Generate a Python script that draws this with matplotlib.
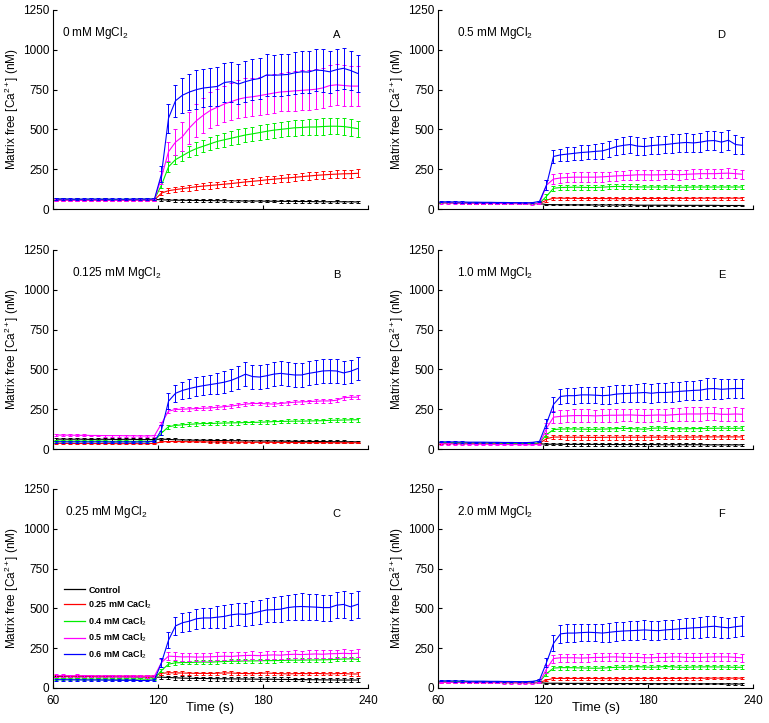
import matplotlib
matplotlib.use('Agg')
import matplotlib.pyplot as plt
from matplotlib.lines import Line2D

plt.rcParams['font.family'] = ['Liberation Sans', 'DejaVu Sans']
plt.rcParams['mathtext.fontset'] = 'custom'
plt.rcParams['mathtext.rm'] = 'Liberation Sans'
plt.rcParams['mathtext.it'] = 'Liberation Sans:italic'
plt.rcParams['mathtext.bf'] = 'Liberation Sans:bold'

# ---------------- data ----------------
TIME = [62, 66, 70, 74, 78, 82, 86, 90, 94, 98, 102, 106, 110, 114, 118,
        122, 126, 130, 134, 138, 142, 146, 150, 154, 158, 162, 166, 170, 174, 178,
        182, 186, 190, 194, 198, 202, 206, 210, 214, 218, 222, 226, 230, 234]

SERIES_LABELS = ['Control', '0.25 mM CaCl$_2$', '0.4 mM CaCl$_2$',
                 '0.5 mM CaCl$_2$', '0.6 mM CaCl$_2$']
SERIES_COLORS = ['#000000', '#ff0000', '#00ee00', '#ff00ff', '#0000ff']
PANEL_TITLES = ['0 mM MgCl$_2$', '0.125 mM MgCl$_2$', '0.25 mM MgCl$_2$',
                '0.5 mM MgCl$_2$', '1.0 mM MgCl$_2$', '2.0 mM MgCl$_2$']
PANEL_LETTERS = ['A', 'B', 'C', 'D', 'E', 'F']
XTICKS = [60, 120, 180, 240]
YTICKS = [0, 250, 500, 750, 1000, 1250]

# Panel A: 0 mM MgCl2
A_ctrl = [62, 61, 60, 61, 60, 59, 60, 61, 60, 59, 60, 60, 61, 60, 60,
          58, 56, 55, 55, 54, 54, 53, 53, 52, 52, 51, 51, 50, 50, 50, 49, 49, 48, 48, 48, 47, 47, 46, 46, 45, 46, 45, 45, 44]
A_ctrl_err = [5, 5, 5, 5, 5, 5, 5, 5, 5, 5, 5, 5, 5, 5, 6,
              8, 8, 8, 8, 8, 8, 8, 8, 8, 8, 8, 8, 8, 8, 8, 8, 8, 8, 8, 8, 8, 8, 8, 8, 8, 8, 8, 8, 8]
A_red = [55, 56, 55, 54, 55, 56, 55, 54, 55, 55, 54, 55, 56, 55, 57,
         100, 115, 122, 128, 134, 140, 144, 148, 152, 156, 160, 165, 170, 174, 178, 183, 187, 191, 195, 199, 203, 207, 211, 214, 217, 219, 221, 222, 224]
A_red_err = [4, 4, 4, 4, 4, 4, 4, 4, 4, 4, 4, 4, 4, 4, 4,
             12, 15, 17, 18, 18, 19, 19, 20, 20, 20, 21, 21, 21, 22, 22, 22, 22, 23, 23, 23, 23, 24, 24, 24, 24, 25, 25, 25, 25]
A_grn = [60, 61, 60, 59, 60, 61, 60, 60, 59, 60, 61, 60, 60, 61, 62,
         150, 265, 310, 335, 360, 380, 395, 410, 425, 435, 445, 455, 465, 472, 480, 488, 495, 500, 505, 510, 512, 515, 515, 518, 520, 520, 518, 512, 505]
A_grn_err = [5, 5, 5, 5, 5, 5, 5, 5, 5, 5, 5, 5, 5, 5, 5,
             20, 30, 30, 32, 35, 38, 40, 42, 42, 44, 45, 45, 46, 46, 47, 47, 48, 48, 48, 50, 50, 50, 50, 52, 52, 52, 52, 52, 50]
A_mag = [55, 56, 55, 54, 55, 55, 56, 55, 54, 55, 55, 56, 55, 56, 58,
         200, 360, 420, 455, 510, 555, 590, 620, 640, 660, 675, 690, 700, 705, 712, 720, 728, 735, 738, 742, 745, 748, 752, 760, 775, 780, 776, 772, 772]
A_mag_err = [5, 5, 5, 5, 5, 5, 5, 5, 5, 5, 5, 5, 5, 5, 5,
             40, 60, 80, 90, 100, 105, 110, 112, 115, 115, 118, 118, 120, 120, 120, 122, 122, 122, 125, 125, 125, 125, 125, 128, 128, 128, 128, 128, 128]
A_blu = [62, 63, 62, 61, 62, 63, 62, 61, 62, 62, 61, 62, 63, 62, 64,
         220, 570, 680, 715, 735, 750, 760, 765, 770, 795, 800, 785, 800, 812, 820, 842, 840, 842, 845, 855, 862, 860, 873, 870, 862, 875, 884, 870, 852]
A_blu_err = [6, 6, 6, 6, 6, 6, 6, 6, 6, 6, 6, 6, 6, 6, 6,
             50, 90, 100, 110, 115, 120, 120, 120, 122, 125, 125, 125, 128, 130, 130, 130, 130, 130, 130, 130, 132, 132, 132, 132, 132, 130, 130, 125, 115]

# Panel B: 0.125 mM MgCl2
B_ctrl = [62, 62, 61, 62, 61, 60, 61, 61, 60, 60, 61, 60, 60, 59, 60,
          62, 60, 58, 57, 56, 55, 55, 54, 53, 53, 52, 52, 51, 51, 50, 50, 50, 49, 49, 48, 48, 48, 47, 47, 46, 46, 46, 45, 45]
B_ctrl_err = [10, 10, 10, 10, 10, 10, 10, 10, 10, 10, 10, 10, 10, 10, 10,
              8, 8, 8, 8, 8, 8, 8, 8, 8, 8, 8, 8, 8, 8, 8, 8, 8, 8, 8, 8, 8, 8, 8, 8, 8, 8, 8, 8, 8]
B_red = [36, 35, 35, 34, 35, 34, 34, 35, 34, 33, 34, 34, 33, 34, 35,
         45, 47, 47, 46, 46, 45, 45, 44, 44, 44, 43, 43, 43, 42, 42, 42, 42, 41, 41, 41, 40, 40, 40, 40, 40, 39, 39, 39, 39]
B_red_err = [4, 4, 4, 4, 4, 4, 4, 4, 4, 4, 4, 4, 4, 4, 4,
             4, 4, 4, 4, 4, 4, 4, 4, 4, 4, 4, 4, 4, 4, 4, 4, 4, 4, 4, 4, 4, 4, 4, 4, 4, 4, 4, 4, 4]
B_grn = [50, 50, 49, 50, 49, 49, 50, 49, 48, 49, 49, 48, 49, 48, 50,
         100, 140, 148, 152, 155, 158, 160, 160, 162, 163, 164, 165, 166, 167, 168, 170, 172, 173, 174, 175, 175, 176, 177, 178, 180, 181, 182, 183, 184]
B_grn_err = [5, 5, 5, 5, 5, 5, 5, 5, 5, 5, 5, 5, 5, 5, 5,
             12, 12, 12, 12, 12, 12, 12, 12, 12, 12, 12, 12, 12, 12, 12, 12, 12, 12, 12, 12, 12, 12, 12, 12, 12, 12, 12, 12, 12]
B_mag = [88, 87, 87, 86, 86, 85, 85, 84, 84, 84, 83, 83, 82, 82, 84,
         160, 238, 248, 250, 252, 254, 256, 258, 262, 266, 270, 276, 282, 286, 286, 284, 282, 286, 290, 294, 296, 298, 300, 302, 302, 306, 322, 325, 326]
B_mag_err = [6, 6, 6, 6, 6, 6, 6, 6, 6, 6, 6, 6, 6, 6, 6,
             12, 12, 12, 12, 12, 12, 12, 12, 12, 12, 12, 12, 12, 12, 12, 12, 12, 12, 12, 12, 12, 12, 12, 12, 12, 12, 12, 12, 12]
B_blu = [45, 45, 44, 45, 44, 44, 45, 44, 43, 44, 44, 43, 44, 45, 48,
         120, 300, 350, 368, 380, 390, 398, 405, 412, 420, 432, 450, 470, 455, 452, 460, 470, 475, 470, 465, 465, 475, 482, 490, 492, 490, 478, 488, 505]
B_blu_err = [6, 6, 6, 6, 6, 6, 6, 6, 6, 6, 6, 6, 6, 6, 6,
             30, 50, 55, 55, 58, 60, 60, 62, 65, 68, 70, 72, 75, 75, 75, 75, 75, 75, 75, 75, 75, 75, 75, 75, 75, 75, 72, 72, 72]

# Panel C: 0.25 mM MgCl2
C_ctrl = [72, 71, 72, 70, 71, 72, 70, 71, 70, 71, 70, 70, 69, 70, 68,
          68, 66, 64, 62, 61, 60, 60, 59, 58, 58, 57, 57, 56, 56, 55, 55, 55, 54, 54, 53, 53, 52, 52, 51, 51, 50, 50, 50, 50]
C_ctrl_err = [6, 6, 6, 6, 6, 6, 6, 6, 6, 6, 6, 6, 6, 6, 6,
              12, 12, 12, 12, 12, 12, 12, 12, 12, 12, 12, 12, 12, 12, 12, 12, 12, 12, 12, 12, 12, 12, 12, 12, 12, 12, 12, 12, 12]
C_red = [75, 76, 74, 75, 76, 75, 74, 75, 76, 74, 75, 75, 74, 74, 76,
         92, 96, 95, 94, 93, 92, 92, 91, 93, 95, 94, 92, 91, 90, 92, 94, 92, 90, 89, 90, 91, 90, 92, 90, 89, 90, 91, 88, 88]
C_red_err = [8, 8, 8, 8, 8, 8, 8, 8, 8, 8, 8, 8, 8, 8, 8,
             10, 10, 10, 10, 10, 10, 10, 10, 10, 10, 10, 10, 10, 10, 10, 10, 10, 10, 10, 10, 10, 10, 10, 10, 10, 10, 10, 10, 10]
C_grn = [56, 57, 56, 55, 56, 56, 55, 56, 55, 55, 56, 55, 56, 55, 58,
         110, 150, 158, 160, 160, 162, 163, 162, 165, 166, 168, 168, 170, 170, 171, 172, 172, 173, 174, 175, 175, 176, 176, 177, 178, 180, 182, 183, 180]
C_grn_err = [6, 6, 6, 6, 6, 6, 6, 6, 6, 6, 6, 6, 6, 6, 6,
             12, 12, 12, 12, 12, 12, 12, 12, 12, 12, 12, 12, 12, 12, 12, 12, 12, 12, 12, 12, 12, 12, 12, 12, 12, 12, 12, 12, 12]
C_mag = [78, 77, 76, 77, 76, 76, 75, 76, 75, 74, 75, 74, 74, 73, 75,
         160, 200, 198, 195, 196, 194, 195, 196, 198, 200, 198, 202, 204, 205, 203, 206, 208, 206, 210, 212, 210, 212, 214, 212, 215, 216, 218, 216, 218]
C_mag_err = [8, 8, 8, 8, 8, 8, 8, 8, 8, 8, 8, 8, 8, 8, 8,
             25, 25, 25, 25, 25, 25, 25, 25, 25, 25, 25, 25, 25, 25, 25, 25, 25, 25, 25, 25, 25, 25, 25, 25, 25, 25, 25, 25, 25]
C_blu = [52, 52, 51, 51, 50, 50, 50, 49, 49, 48, 48, 48, 47, 47, 50,
         160, 300, 390, 410, 420, 435, 440, 440, 445, 450, 460, 465, 462, 470, 480, 490, 492, 495, 505, 510, 512, 510, 508, 505, 505, 520, 525, 510, 525]
C_blu_err = [6, 6, 6, 6, 6, 6, 6, 6, 6, 6, 6, 6, 6, 6, 6,
             30, 50, 55, 58, 60, 62, 65, 65, 68, 70, 70, 72, 72, 75, 75, 78, 78, 80, 80, 82, 82, 82, 82, 82, 82, 82, 85, 85, 85]

# Panel D: 0.5 mM MgCl2
D_ctrl = [40, 39, 39, 38, 38, 37, 37, 36, 36, 35, 35, 35, 34, 34, 34,
          28, 27, 27, 26, 26, 26, 26, 25, 25, 25, 25, 25, 25, 24, 24, 24, 24, 24, 24, 23, 23, 23, 23, 23, 23, 22, 22, 22, 22]
D_ctrl_err = [4, 4, 4, 4, 4, 4, 4, 4, 4, 4, 4, 4, 4, 4, 4,
              4, 4, 4, 4, 4, 4, 4, 4, 4, 4, 4, 4, 4, 4, 4, 4, 4, 4, 4, 4, 4, 4, 4, 4, 4, 4, 4, 4, 4]
D_red = [40, 40, 39, 39, 38, 38, 37, 37, 36, 36, 35, 35, 35, 34, 35,
         55, 68, 68, 67, 67, 66, 66, 66, 66, 65, 65, 65, 65, 66, 66, 66, 66, 66, 67, 67, 67, 67, 68, 68, 68, 68, 68, 68, 68]
D_red_err = [4, 4, 4, 4, 4, 4, 4, 4, 4, 4, 4, 4, 4, 4, 4,
             10, 10, 10, 10, 10, 10, 10, 10, 10, 10, 10, 10, 10, 10, 10, 10, 10, 10, 10, 10, 10, 10, 10, 10, 10, 10, 10, 10, 10]
D_grn = [42, 41, 41, 40, 40, 39, 39, 38, 38, 37, 37, 36, 36, 36, 36,
         80, 130, 135, 136, 137, 136, 135, 135, 137, 140, 142, 141, 140, 139, 138, 138, 138, 138, 137, 137, 137, 138, 138, 138, 138, 138, 138, 138, 138]
D_grn_err = [4, 4, 4, 4, 4, 4, 4, 4, 4, 4, 4, 4, 4, 4, 4,
             15, 15, 15, 15, 15, 15, 15, 15, 15, 15, 15, 15, 15, 15, 15, 15, 15, 15, 15, 15, 15, 15, 15, 15, 15, 15, 15, 15, 15]
D_mag = [38, 38, 37, 37, 36, 36, 35, 35, 34, 34, 33, 33, 33, 32, 34,
         150, 188, 195, 198, 200, 200, 200, 200, 202, 205, 208, 210, 212, 215, 215, 214, 215, 216, 218, 215, 218, 220, 222, 222, 222, 224, 225, 222, 218]
D_mag_err = [4, 4, 4, 4, 4, 4, 4, 4, 4, 4, 4, 4, 4, 4, 4,
             30, 30, 30, 30, 30, 30, 30, 30, 30, 30, 30, 30, 30, 30, 30, 30, 30, 30, 30, 30, 30, 30, 30, 30, 30, 30, 30, 30, 30]
D_blu = [45, 45, 44, 44, 43, 43, 42, 42, 41, 41, 40, 40, 39, 40, 48,
         150, 330, 340, 345, 350, 355, 358, 362, 365, 378, 392, 400, 405, 395, 392, 398, 402, 405, 410, 415, 418, 415, 420, 428, 430, 420, 432, 405, 400]
D_blu_err = [4, 4, 4, 4, 4, 4, 4, 4, 4, 4, 4, 4, 4, 4, 4,
             30, 40, 40, 42, 42, 45, 45, 48, 48, 50, 50, 52, 52, 55, 55, 55, 55, 55, 58, 58, 58, 58, 60, 60, 62, 62, 62, 58, 52]

# Panel E: 1.0 mM MgCl2
E_ctrl = [38, 37, 37, 36, 36, 35, 35, 35, 34, 34, 34, 33, 33, 33, 33,
          30, 30, 30, 29, 29, 29, 29, 29, 28, 28, 28, 28, 28, 28, 28, 28, 27, 27, 27, 27, 27, 27, 27, 26, 26, 26, 26, 26, 26]
E_ctrl_err = [4, 4, 4, 4, 4, 4, 4, 4, 4, 4, 4, 4, 4, 4, 4,
              8, 8, 8, 8, 8, 8, 8, 8, 8, 8, 8, 8, 8, 8, 8, 8, 8, 8, 8, 8, 8, 8, 8, 8, 8, 8, 8, 8, 8]
E_red = [38, 37, 37, 36, 36, 35, 35, 35, 34, 34, 34, 33, 33, 33, 35,
         65, 75, 75, 74, 74, 74, 73, 73, 73, 74, 74, 74, 74, 74, 74, 74, 75, 75, 75, 75, 75, 75, 76, 76, 76, 76, 76, 76, 76]
E_red_err = [4, 4, 4, 4, 4, 4, 4, 4, 4, 4, 4, 4, 4, 4, 4,
             15, 15, 15, 15, 15, 15, 15, 15, 15, 15, 15, 15, 15, 15, 15, 15, 15, 15, 15, 15, 15, 15, 15, 15, 15, 15, 15, 15, 15]
E_grn = [40, 39, 39, 38, 38, 38, 37, 37, 37, 36, 36, 36, 36, 35, 38,
         90, 122, 125, 126, 126, 125, 124, 124, 125, 126, 128, 130, 128, 126, 124, 130, 132, 130, 128, 126, 127, 128, 128, 130, 130, 131, 130, 130, 131]
E_grn_err = [4, 4, 4, 4, 4, 4, 4, 4, 4, 4, 4, 4, 4, 4, 4,
             12, 12, 12, 12, 12, 12, 12, 12, 12, 12, 12, 12, 12, 12, 12, 12, 12, 12, 12, 12, 12, 12, 12, 12, 12, 12, 12, 12, 12]
E_mag = [32, 32, 31, 31, 30, 30, 30, 29, 29, 28, 28, 28, 27, 27, 30,
         130, 200, 205, 208, 210, 210, 210, 208, 210, 212, 212, 213, 214, 212, 210, 212, 214, 212, 215, 218, 220, 220, 220, 222, 222, 218, 218, 220, 218]
E_mag_err = [4, 4, 4, 4, 4, 4, 4, 4, 4, 4, 4, 4, 4, 4, 4,
             35, 38, 40, 40, 40, 40, 40, 40, 40, 40, 40, 40, 40, 40, 40, 40, 40, 40, 40, 42, 42, 42, 42, 42, 42, 42, 42, 42, 42]
E_blu = [45, 45, 44, 44, 43, 43, 43, 42, 42, 41, 41, 40, 40, 42, 48,
         160, 280, 330, 335, 335, 340, 340, 338, 335, 338, 345, 348, 350, 352, 355, 350, 355, 355, 358, 362, 365, 368, 370, 378, 380, 375, 378, 380, 380]
E_blu_err = [4, 4, 4, 4, 4, 4, 4, 4, 4, 4, 4, 4, 4, 4, 4,
             30, 45, 45, 48, 50, 50, 52, 52, 52, 55, 55, 55, 55, 58, 58, 58, 58, 58, 60, 60, 60, 62, 62, 65, 65, 62, 60, 60, 60]

# Panel F: 2.0 mM MgCl2
F_ctrl = [40, 40, 39, 39, 38, 38, 37, 37, 36, 36, 35, 35, 35, 34, 34,
          30, 30, 30, 29, 29, 29, 29, 28, 28, 28, 28, 28, 28, 28, 28, 27, 27, 27, 27, 27, 26, 26, 26, 26, 26, 26, 25, 25, 25]
F_ctrl_err = [4, 4, 4, 4, 4, 4, 4, 4, 4, 4, 4, 4, 4, 4, 4,
              4, 4, 4, 4, 4, 4, 4, 4, 4, 4, 4, 4, 4, 4, 4, 4, 4, 4, 4, 4, 4, 4, 4, 4, 4, 4, 4, 4, 4]
F_red = [38, 38, 37, 37, 36, 36, 36, 35, 35, 35, 34, 34, 34, 33, 35,
         50, 60, 60, 60, 60, 60, 60, 60, 59, 59, 59, 59, 60, 60, 60, 60, 60, 60, 60, 60, 61, 61, 61, 62, 62, 62, 62, 62, 62]
F_red_err = [4, 4, 4, 4, 4, 4, 4, 4, 4, 4, 4, 4, 4, 4, 4,
             8, 8, 8, 8, 8, 8, 8, 8, 8, 8, 8, 8, 8, 8, 8, 8, 8, 8, 8, 8, 8, 8, 8, 8, 8, 8, 8, 8, 8]
F_grn = [42, 42, 41, 41, 40, 40, 39, 39, 38, 38, 38, 37, 37, 36, 38,
         90, 125, 128, 128, 127, 126, 125, 124, 125, 128, 130, 130, 132, 134, 132, 130, 132, 135, 133, 130, 130, 132, 132, 133, 132, 132, 131, 130, 130]
F_grn_err = [4, 4, 4, 4, 4, 4, 4, 4, 4, 4, 4, 4, 4, 4, 4,
             12, 12, 12, 12, 12, 12, 12, 12, 12, 12, 12, 12, 12, 12, 12, 12, 12, 12, 12, 12, 12, 12, 12, 12, 12, 12, 12, 12, 12]
F_mag = [36, 36, 35, 35, 34, 34, 33, 33, 33, 32, 32, 31, 31, 31, 33,
         120, 185, 190, 190, 190, 188, 190, 192, 192, 195, 195, 193, 192, 192, 190, 190, 192, 192, 195, 195, 192, 192, 192, 194, 195, 195, 195, 192, 190]
F_mag_err = [4, 4, 4, 4, 4, 4, 4, 4, 4, 4, 4, 4, 4, 4, 4,
             25, 25, 25, 25, 25, 25, 25, 25, 25, 25, 25, 25, 25, 25, 25, 25, 25, 25, 25, 25, 25, 25, 25, 25, 25, 25, 25, 25, 25]
F_blu = [45, 45, 44, 44, 43, 43, 43, 42, 42, 41, 41, 40, 40, 42, 50,
         160, 280, 340, 345, 345, 348, 350, 348, 345, 350, 355, 358, 360, 362, 365, 362, 360, 365, 368, 372, 375, 378, 380, 385, 388, 382, 378, 385, 390]
F_blu_err = [4, 4, 4, 4, 4, 4, 4, 4, 4, 4, 4, 4, 4, 4, 4,
             30, 50, 55, 55, 55, 55, 55, 55, 55, 58, 58, 58, 58, 60, 60, 60, 60, 60, 62, 62, 62, 62, 65, 65, 65, 65, 62, 62, 62]

PANELS = [
    [(A_ctrl, A_ctrl_err), (A_red, A_red_err), (A_grn, A_grn_err), (A_mag, A_mag_err), (A_blu, A_blu_err)],
    [(B_ctrl, B_ctrl_err), (B_red, B_red_err), (B_grn, B_grn_err), (B_mag, B_mag_err), (B_blu, B_blu_err)],
    [(C_ctrl, C_ctrl_err), (C_red, C_red_err), (C_grn, C_grn_err), (C_mag, C_mag_err), (C_blu, C_blu_err)],
    [(D_ctrl, D_ctrl_err), (D_red, D_red_err), (D_grn, D_grn_err), (D_mag, D_mag_err), (D_blu, D_blu_err)],
    [(E_ctrl, E_ctrl_err), (E_red, E_red_err), (E_grn, E_grn_err), (E_mag, E_mag_err), (E_blu, E_blu_err)],
    [(F_ctrl, F_ctrl_err), (F_red, F_red_err), (F_grn, F_grn_err), (F_mag, F_mag_err), (F_blu, F_blu_err)],
]

# ---------------- layout ----------------
fig = plt.figure(figsize=(7.69, 7.23), dpi=100)
W, H = 769.0, 723.0
col_left = [53 / W, 438 / W]
row_top = [10, 250, 489]
ax_w = 315 / W
ax_h = 199 / H
# panel index -> (row, col)
grid = [(0, 0), (1, 0), (2, 0), (0, 1), (1, 1), (2, 1)]
title_x = [65, 71, 67, 71, 71, 71]

for i, series in enumerate(PANELS):
    r, c = grid[i]
    bottom = 1 - (row_top[r] + 199) / H
    ax = fig.add_axes([col_left[c], bottom, ax_w, ax_h])
    for k, (vals, errs) in enumerate(series):
        n = min(len(TIME), len(vals), len(errs))
        ax.errorbar(TIME[:n], vals[:n], yerr=errs[:n], color=SERIES_COLORS[k],
                    lw=0.8, elinewidth=0.7, capsize=1.6, capthick=0.7, zorder=2 + k)
    ax.set_xlim(60, 240)
    ax.set_ylim(0, 1250)
    ax.set_xticks(XTICKS)
    ax.set_yticks(YTICKS)
    for s in ['top', 'right']:
        ax.spines[s].set_visible(False)
    for s in ['left', 'bottom']:
        ax.spines[s].set_linewidth(0.8)
    ax.tick_params(direction='in', length=3, width=0.8, labelsize=8.5)
    ax.tick_params(axis='y', pad=2.5)
    ax.tick_params(axis='x', pad=5)
    if r < 2:
        ax.tick_params(labelbottom=False)
    else:
        ax.set_xlabel('Time (s)', fontsize=9.5)
        ax.xaxis.set_label_coords(0.5, -0.068)
    ax.set_ylabel('Matrix free [Ca$^{2+}$] (nM)', fontsize=8.5)
    ax.yaxis.set_label_coords(-31.5 / 315, 0.5)
    ax.text(title_x[i], 1105, PANEL_TITLES[i], fontsize=8.5, va='center', ha='left')
    ax.text(222, 1095, PANEL_LETTERS[i], fontsize=8, va='center', ha='center')
    if i == 2:
        handles = [Line2D([], [], color=SERIES_COLORS[k], lw=0.9) for k in range(5)]
        leg = ax.legend(handles, SERIES_LABELS, loc='upper left',
                        bbox_to_anchor=(0.035, 0.515), frameon=False,
                        prop={'size': 6.5, 'weight': 'bold'}, handlelength=2.3,
                        handletextpad=0.4, labelspacing=0.45, borderpad=0,
                        borderaxespad=0)

fig.savefig('out.png', dpi=100)
